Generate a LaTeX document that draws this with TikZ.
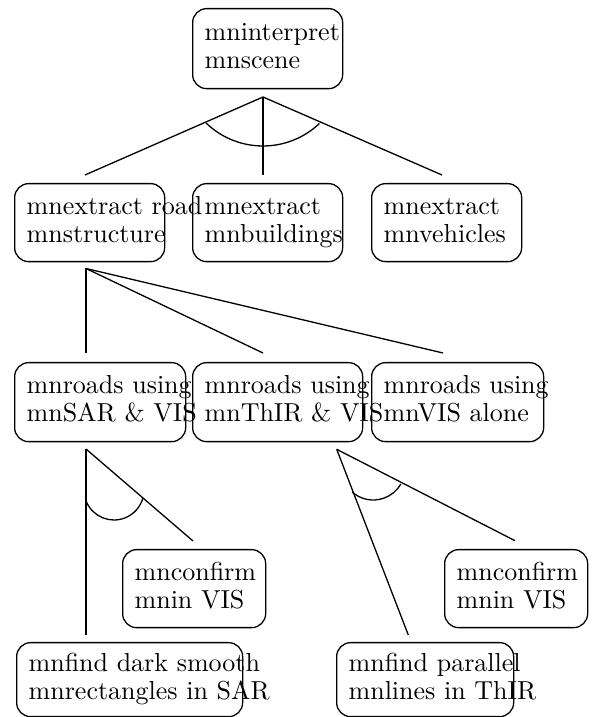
\documentclass[tikz,border=0pt]{standalone}
\usepackage{fontspec}
\setmainfont{lmroman10-regular.otf}
\usetikzlibrary{calc}
% two fixed lines of a goal box; long lines run past the frame
\newcommand\goallines[2]{\strut\mbox{#1}\\\strut\mbox{#2}}
\begin{document}
\begin{tikzpicture}[x=1pt,y=1pt,
  goal/.style={draw, line width=1.3pt, rounded corners=14pt, anchor=north west,
    inner xsep=12pt, inner ysep=0pt, align=left,
    font=\fontsize{26}{28}\selectfont},
  link/.style={line width=1.3pt},
]
\useasboundingbox (0,0) rectangle (597,717);

% goal boxes
\node[goal, text width=126pt, minimum height=80pt] (interp) at (192,709) {\goallines{mninterpret}{mnscene}};

\node[goal, text width=126pt, minimum height=78pt] (road)  at (14,534)  {\goallines{mnextract road}{mnstructure}};
\node[goal, text width=126pt, minimum height=78pt] (build) at (192,534) {\goallines{mnextract}{mnbuildings}};
\node[goal, text width=126pt, minimum height=78pt] (vehic) at (371,534) {\goallines{mnextract}{mnvehicles}};

\node[goal, text width=147pt, minimum height=79pt] (sar)   at (14,355)  {\goallines{mnroads using}{mnSAR \& VIS}};
\node[goal, text width=146pt, minimum height=79pt] (thir)  at (192,355) {\goallines{mnroads using}{mnThIR \& VIS}};
\node[goal, text width=148pt, minimum height=79pt] (visal) at (371,355) {\goallines{mnroads using}{mnVIS alone}};

\node[goal, text width=119pt, minimum height=78pt] (confa) at (122,168) {\goallines{mnconfirm}{mnin VIS}};
\node[goal, text width=119pt, minimum height=78pt] (confb) at (444,168) {\goallines{mnconfirm}{mnin VIS}};

\node[goal, text width=202pt, minimum height=74pt] (rects) at (16,75)  {\goallines{mnfind dark smooth}{mnrectangles in SAR}};
\node[goal, text width=153pt, minimum height=74pt] (lines) at (336,75) {\goallines{mnfind parallel}{mnlines in ThIR}};

% fork points under each parent and free ends above each child
\coordinate (interp-fork) at (263,620);
\coordinate (road-top)  at (85,542);
\coordinate (build-top) at (263,542);
\coordinate (vehic-top) at (442,542);

\coordinate (road-fork) at (86,448.5);
\coordinate (sar-top)   at (86,364);
\coordinate (thir-top)  at (263,364);
\coordinate (visal-top) at (443,364);

\coordinate (sar-fork)  at (86,268);
\coordinate (rects-top) at (86,82);
\coordinate (confa-top) at (193,176);

\coordinate (thir-fork) at (336.7,267.7);
\coordinate (lines-top) at (408.3,82);
\coordinate (confb-top) at (515,176.3);

% centres of the AND arcs
\coordinate (interp-and) at (263,653);
\coordinate (sar-and)    at (114,227);
\coordinate (thir-and)   at (373.2,249);

% connectors
\draw[link] (interp-fork) -- (road-top);
\draw[link] (interp-fork) -- (build-top);
\draw[link] (interp-fork) -- (vehic-top);
\draw[link] ($(interp-and)+(226:82)$) arc[start angle=226, end angle=313.5, radius=82];

\draw[link] (road-fork) -- (sar-top);
\draw[link] (road-fork) -- (thir-top);
\draw[link] (road-fork) -- (visal-top);

\draw[link] (sar-fork) -- (rects-top);
\draw[link] (sar-fork) -- (confa-top);
\draw[link] ($(sar-and)+(203:30)$) arc[start angle=203, end angle=345, radius=30];

\draw[link] (thir-fork) -- (lines-top);
\draw[link] (thir-fork) -- (confb-top);
\draw[link] ($(thir-and)+(229:32)$) arc[start angle=229, end angle=330, radius=32];
\end{tikzpicture}
\end{document}
